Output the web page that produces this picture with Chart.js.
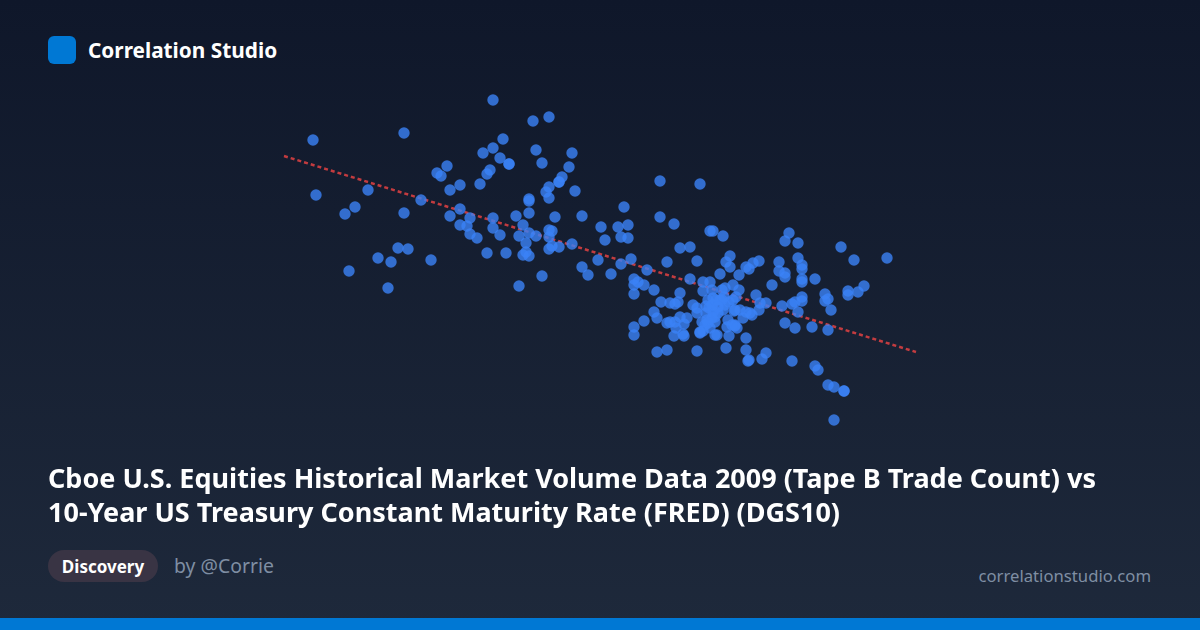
<!DOCTYPE html>
<html>
<head>
<meta charset="utf-8">
<title>Correlation Studio</title>
<script src="https://cdn.jsdelivr.net/npm/chart.js@4/dist/chart.umd.min.js"></script>
<style>
  * { box-sizing: border-box; }
  html, body { margin: 0; padding: 0; }
  body {
    position: relative;
    width: 1200px;
    height: 630px;
    overflow: hidden;
    font-family: "Noto Sans", sans-serif;
    background: linear-gradient(180deg, #0f172a 0%, #1e293b 100%);
  }
  .logo { position: absolute; left: 48px; top: 36px; width: 28px; height: 28px; border-radius: 6px; background: #0078d4; }
  .brand { position: absolute; left: 88px; top: 36px; line-height: 28px; font-size: 20.8px; font-weight: 700; color: #fff; }
  .title { position: absolute; left: 48px; top: 461px; width: 1104px; font-size: 27px; line-height: 34px; font-weight: 700; color: #fff; }
  .pill { position: absolute; left: 48px; top: 550px; height: 32px; width: 110px; border-radius: 16px; background: #393444; color: #fff; font-size: 17px; font-weight: 700; line-height: 34px; text-align: center; }
  .author { position: absolute; left: 174px; top: 550px; line-height: 32px; font-size: 19.4px; color: #7f8ea3; }
  .site { position: absolute; right: 49px; top: 560px; line-height: 32px; font-size: 16.7px; color: #7f8ea3; }
  .bar { position: absolute; left: 0; bottom: 0; width: 1200px; height: 12px; background: #0078d4; }
  .plot { position: absolute; left: 200px; top: 60px; width: 800px; height: 400px; }
</style>
</head>
<body>
<div class="logo"></div>
<div class="brand">Correlation Studio</div>
<div class="plot"><canvas id="scatterChart" width="800" height="400"></canvas></div>
<div class="title">Cboe U.S. Equities Historical Market Volume Data 2009 (Tape B Trade Count) vs<br>10-Year US Treasury Constant Maturity Rate (FRED) (DGS10)</div>
<div class="pill">Discovery</div>
<div class="author">by @Corrie</div>
<div class="site">correlationstudio.com</div>
<div class="bar"></div>
<script>
// No axis is shown so the trade count units are a guess
const tradeCount = [
  1293,1333,1349,1113,1204,1303,1293,1283,1300,1309,
  1309,1336,1342,1372,1369,1362,1359,1359,1349,1346,
  1349,1375,1290,1287,1280,1247,1237,1241,1260,1250,
  1168,1116,1155,1145,1204,1221,1329,1329,1329,1316,
  1355,1382,1260,1250,1270,1260,1267,1270,1277,1293,
  1293,1300,1323,1319,1329,1336,1326,1349,1352,1349,
  1352,1349,1359,1372,1326,1323,1329,1287,1306,1198,
  1208,1178,1191,1231,1149,1188,1342,1319,1382,1388,
  1398,1401,
  1460,1500,1424,1418,1428,1405,1421,1428,1460,1474,
  1510,1513,1523,1480,1490,1530,1526,1530,1546,1549,
  1411,1421,1431,1447,1467,1497,1520,1539,1434,1438,
  1434,1434,1444,1454,1490,1503,1510,1503,1512,1522,
  1525,1533,1539,1536,1480,1461,1470,1475,1478,1493,
  1497,1497,1454,1457,1444,1434,1434,1467,1470,1475,
  1480,1487,1484,1476,1474,1483,1484,1457,1467,1497,
  1500,1503,1507,1508,1510,1515,1527,1529,1526,1546,
  1546,1548,1513,1509,1513,1518,1523,1515,1529,1534,
  1528,1532,1535,1543,1546,1550,
  1589,1585,1598,1641,1654,1687,1553,1559,1579,1579,
  1585,1585,1598,1602,1602,1602,1602,1615,1572,1556,
  1533,1560,1566,1559,1552,1535,1535,1582,1592,1595,
  1602,1602,1598,1585,1595,1612,1628,1625,1625,1628,
  1631,1648,1648,1658,1664,1566,1562,1549,1592,1615,
  1618,1628,1634,1644,1644,1634,
  1513,1512,1505,1500,1517,1537,1522,1525,1515,
  1516,1508,1520,1506,1512,1518,1506,1540,1502,1524,
];
const treasuryRate = [
  3.8,3.695,3.715,3.6,3.635,3.605,3.56,3.535,3.51,3.48,
  3.48,3.55,3.485,3.535,3.465,3.415,3.39,3.39,3.365,3.34,
  3.31,3.345,3.45,3.43,3.38,3.47,3.435,3.42,3.375,3.35,
  3.35,3.325,3.265,3.23,3.235,3.3,3.305,3.295,3.235,3.22,
  3.215,3.22,3.255,3.22,3.21,3.175,3.17,3.13,3.11,3.21,
  3.16,3.125,3.175,3.12,3.135,3.12,3.085,3.15,3.145,3.115,
  3.07,3.055,3.065,3.08,3.04,3.025,3.02,3.035,3.035,3.06,
  3.055,3.01,2.99,3.0,2.945,2.86,2.92,2.87,2.965,2.925,
  3.0,3.165,
  3.395,3.38,3.265,3.165,3.175,3.1,3.115,3.11,3.215,3.18,
  3.145,3.145,3.12,3.06,3.065,3.02,2.99,2.965,2.965,2.955,
  2.93,2.98,3.005,2.95,2.99,2.995,2.93,2.925,2.905,2.89,
  2.875,2.83,2.875,2.85,2.905,2.89,2.89,2.845,2.85,2.85,
  2.86,2.875,2.85,2.815,2.835,2.79,2.785,2.78,2.79,2.775,
  2.76,2.735,2.74,2.71,2.695,2.665,2.625,2.685,2.69,2.69,
  2.715,2.71,2.68,2.66,2.62,2.63,2.62,2.54,2.55,2.545,
  2.635,2.645,2.7,2.685,2.66,2.625,2.665,2.62,2.56,2.61,
  2.55,2.495,2.775,2.76,2.74,2.735,2.75,2.715,2.79,2.745,
  2.7,2.675,2.67,2.71,2.74,2.735,
  3.135,3.095,3.085,3.065,3.0,3.01,2.985,2.995,2.99,2.945,
  2.935,2.915,3.01,2.975,2.955,2.905,2.89,2.905,2.875,2.825,
  2.8,2.785,2.785,2.75,2.725,2.75,2.675,2.77,2.78,2.79,
  2.815,2.795,2.74,2.685,2.66,2.665,2.65,2.83,2.795,2.805,
  2.75,2.845,2.825,2.84,2.87,2.535,2.505,2.5,2.495,2.47,
  2.45,2.375,2.365,2.345,2.345,2.2,
  2.81,2.775,2.675,2.64,2.625,2.66,2.8,2.775,2.69,
  2.8,2.8,2.8,2.735,2.71,2.765,2.77,2.75,2.69,2.815,
];
const trendX = [1084, 1716];
const trendY = [3.52, 2.54];

const ctx = document.getElementById("scatterChart").getContext("2d");
const scatterChart = new Chart(ctx, {
  type: "scatter",
  data: {
    datasets: [
      {
        label: "Trend",
        data: trendX.map((x, i) => ({ x: x, y: trendY[i] })),
        showLine: true,
        pointRadius: 0,
        borderColor: "rgba(239, 68, 68, 0.8)",
        borderWidth: 2.5,
        borderDash: [4, 3],
        order: 2,
      },
      {
        label: "Days",
        data: tradeCount.map((x, i) => ({ x: x, y: treasuryRate[i] })),
        pointRadius: 5.7,
        pointBorderWidth: 0,
        backgroundColor: "rgba(59, 130, 246, 0.8)",
        order: 1,
      },
    ],
  },
  options: {
    responsive: false,
    animation: false,
    layout: { autoPadding: false, padding: 0 },
    plugins: { legend: { display: false }, tooltip: { enabled: false } },
    scales: {
      x: { type: "linear", display: false, min: 1000, max: 1800 },
      y: { type: "linear", display: false, min: 2, max: 4 },
    },
  },
});
</script>
</body>
</html>
